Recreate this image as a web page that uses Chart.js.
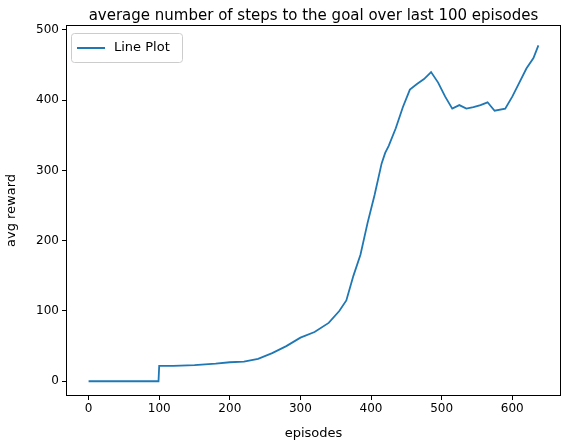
<!DOCTYPE html>
<html>
<head>
<meta charset="utf-8">
<script src="https://cdn.jsdelivr.net/npm/chart.js@4/dist/chart.umd.min.js"></script>
<style>
  html, body { margin: 0; padding: 0; background: #fff; }
  #wrap { width: 570px; height: 445px; }
</style>
</head>
<body>
<div id="wrap"><canvas id="c" width="570" height="445"></canvas></div>
<script>
// values
const episodes = [0, 99, 100, 120, 150, 180, 200, 220, 240, 260, 280, 300, 320, 340, 355, 365, 375, 385, 395, 405, 415, 420, 425, 435, 445, 455, 465, 475, 485, 495, 505, 515, 525, 535, 545, 555, 565, 575, 590, 600, 610, 620, 630, 637];
const avgSteps = [0, 0, 22, 22, 23, 25, 27, 28, 32, 40, 50, 62, 70, 83, 100, 115, 150, 180, 225, 265, 310, 325, 335, 360, 390, 415, 423, 430, 440, 425, 405, 388, 393, 388, 390, 393, 397, 385, 388, 405, 425, 445, 460, 478];
const xTicks = [0, 100, 200, 300, 400, 500, 600];
const yTicks = [0, 100, 200, 300, 400, 500];

const FONT = 'DejaVu Sans';
const points = episodes.map((e, i) => ({ x: e, y: avgSteps[i] }));

// title, frame and legend drawn like matplotlib
const decorations = {
    id: 'decorations',
    afterDraw(chart) {
        const { ctx, chartArea: a } = chart;
        ctx.save();
        ctx.strokeStyle = '#000';
        ctx.lineWidth = 1;
        ctx.strokeRect(a.left + 0.5, a.top + 0.5, a.right - a.left - 1, a.bottom - a.top - 1);

        ctx.fillStyle = '#000';
        ctx.font = '15px ' + FONT;
        ctx.textAlign = 'center';
        ctx.textBaseline = 'alphabetic';
        ctx.fillText('average number of steps to the goal over last 100 episodes', (a.left + a.right) / 2, 20);

        // legend box
        ctx.strokeStyle = '#ccc';
        ctx.fillStyle = 'rgba(255,255,255,0.8)';
        ctx.beginPath();
        ctx.roundRect(71.5, 33.5, 111, 29, 3);
        ctx.fill();
        ctx.stroke();
        ctx.strokeStyle = '#1f77b4';
        ctx.lineWidth = 2;
        ctx.beginPath();
        ctx.moveTo(77, 48);
        ctx.lineTo(105, 48);
        ctx.stroke();
        ctx.fillStyle = '#000';
        ctx.font = '13px ' + FONT;
        ctx.textAlign = 'left';
        ctx.textBaseline = 'middle';
        ctx.fillText('Line Plot', 114, 48);
        ctx.restore();
    }
};

new Chart(document.getElementById('c'), {
    type: 'line',
    data: {
        datasets: [{
            data: points,
            borderColor: '#1f77b4',
            borderWidth: 1.8,
            pointRadius: 0,
            tension: 0,
            fill: false
        }]
    },
    options: {
        responsive: false,
        animation: false,
        layout: { padding: { top: 25, right: 9, left: 0, bottom: 0 } },
        plugins: { legend: { display: false }, tooltip: { enabled: false } },
        scales: {
            x: {
                type: 'linear',
                min: -32,
                max: 669,
                afterBuildTicks: s => { s.ticks = xTicks.map(v => ({ value: v })); },
                afterFit: s => { s.height = 49; },
                grid: { drawOnChartArea: false, tickLength: 4, color: '#000' },
                border: { display: false },
                ticks: { color: '#000', font: { family: FONT, size: 12 }, padding: 2, maxRotation: 0 },
                title: { display: true, text: 'episodes', color: '#000', font: { family: FONT, size: 13 }, padding: { top: 0 } }
            },
            y: {
                min: -21,
                max: 507,
                afterBuildTicks: s => { s.ticks = yTicks.map(v => ({ value: v })); },
                afterFit: s => { s.width = 66; },
                grid: { drawOnChartArea: false, tickLength: 4, color: '#000' },
                border: { display: false },
                ticks: { color: '#000', font: { family: FONT, size: 12 }, padding: 3 },
                title: { display: true, text: 'avg reward', color: '#000', font: { family: FONT, size: 13 }, padding: { bottom: 2 } }
            }
        }
    },
    plugins: [decorations]
});
</script>
</body>
</html>
